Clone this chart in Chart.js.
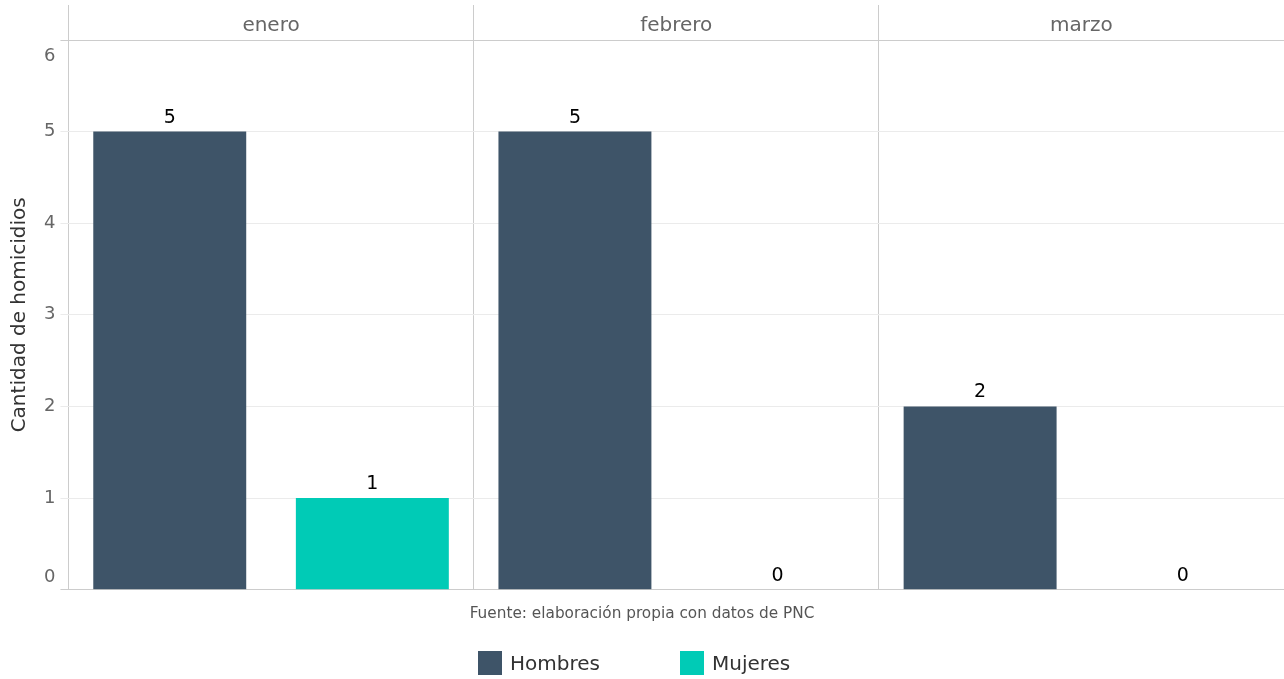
<!DOCTYPE html>
<html lang="es">
<head>
<meta charset="utf-8">
<title>Homicidios por mes</title>
<script src="https://cdn.jsdelivr.net/npm/chart.js@4/dist/chart.umd.min.js"></script>
<style>
    html, body { margin: 0; padding: 0; background: #ffffff; }
    #wrap { position: relative; width: 1284px; height: 679px; }
    #legend {
        position: absolute; left: 478px; top: 651px;
        display: flex; gap: 80px;
        font-family: "DejaVu Sans", sans-serif; font-size: 20px; color: #333333;
    }
    .legend-item { display: flex; align-items: center; gap: 8px; line-height: 24px; }
    .legend-box { width: 24px; height: 24px; display: inline-block; }
</style>
</head>
<body>
<div id="wrap">
    <canvas id="homicidiosChart"></canvas>
    <div id="legend"></div>
</div>
<script>
// --- Data ---
const months = ['enero', 'febrero', 'marzo'];
const hombres = [5, 5, 2];
const mujeres = [1, 0, 0];
const seriesNames = ['Hombres', 'Mujeres'];
const seriesColors = ['#3e5468', '#00cbb6'];
const yMin = 0;
const yMax = 6;
const yTitle = 'Cantidad de homicidios';
const sourceNote = 'Fuente: elaboración propia con datos de PNC';

const FONT = '"DejaVu Sans", sans-serif';

// strip labels (facet headers) drawn above each month column
const stripLabels = {
    id: 'stripLabels',
    afterDraw(chart) {
        const x = chart.scales.x;
        const { ctx } = chart;
        ctx.save();
        ctx.font = '20px ' + FONT;
        ctx.fillStyle = '#666666';
        ctx.textAlign = 'center';
        ctx.textBaseline = 'middle';
        months.forEach((m, i) => {
            ctx.fillText(m, x.getPixelForValue(i), chart.chartArea.top - 14);
        });
        ctx.restore();
    }
};

// first and last y labels sit inside the panel
const edgeTicks = {
    id: 'edgeTicks',
    afterDraw(chart) {
        const y = chart.scales.y;
        const { ctx } = chart;
        ctx.save();
        ctx.font = '18px ' + FONT;
        ctx.fillStyle = '#666666';
        ctx.textAlign = 'right';
        ctx.textBaseline = 'middle';
        const labelX = y.right - 8 - 5;
        ctx.fillText(String(yMin), labelX, y.getPixelForValue(yMin) - 12);
        ctx.fillText(String(yMax), labelX, y.getPixelForValue(yMax) + 16);
        ctx.restore();
    }
};

// value labels on top of the bars
const valueLabels = {
    id: 'valueLabels',
    afterDatasetsDraw(chart) {
        const { ctx } = chart;
        ctx.save();
        ctx.font = '19px ' + FONT;
        ctx.fillStyle = '#000000';
        ctx.textAlign = 'center';
        ctx.textBaseline = 'alphabetic';
        chart.data.datasets.forEach((ds, di) => {
            chart.getDatasetMeta(di).data.forEach((bar, i) => {
                ctx.fillText(String(ds.data[i]), bar.x, bar.y - 9);
            });
        });
        ctx.restore();
    }
};

const ctx = document.getElementById('homicidiosChart').getContext('2d');
new Chart(ctx, {
    type: 'bar',
    data: {
        labels: months,
        datasets: [
            { label: seriesNames[0], data: hombres, backgroundColor: seriesColors[0] },
            { label: seriesNames[1], data: mujeres, backgroundColor: seriesColors[1] }
        ]
    },
    options: {
        responsive: true,
        maintainAspectRatio: false,
        animation: false,
        layout: { padding: { top: 5, left: 0, right: 0, bottom: 56 } },
        datasets: { bar: { categoryPercentage: 1, barPercentage: 0.755 } },
        scales: {
            x: {
                position: 'top',
                grid: { offset: true, color: '#cccccc', tickLength: 35, drawTicks: true },
                border: { display: true, color: '#cccccc' },
                ticks: { display: false }
            },
            y: {
                min: yMin,
                max: yMax,
                grid: {
                    tickLength: 8,
                    color: c => (c.tick.value === yMin || c.tick.value === yMax) ? '#cccccc' : '#ebebeb'
                },
                border: { display: false },
                ticks: {
                    stepSize: 1,
                    padding: 5,
                    color: '#666666',
                    font: { family: FONT, size: 18 },
                    callback: v => (v === yMin || v === yMax) ? '' : v
                },
                title: {
                    display: true,
                    text: yTitle,
                    color: '#333333',
                    font: { family: FONT, size: 20 },
                    padding: { top: 8, bottom: 7 }
                }
            }
        },
        plugins: {
            legend: { display: false },
            tooltip: { enabled: false },
            subtitle: {
                display: true,
                position: 'bottom',
                text: sourceNote,
                color: '#555555',
                font: { family: FONT, size: 15.3, weight: 'normal' },
                padding: { top: 15, bottom: 0 }
            }
        }
    },
    plugins: [stripLabels, edgeTicks, valueLabels]
});

// --- Legend ---
const legendEl = document.getElementById('legend');
legendEl.innerHTML = seriesNames.map((name, i) => `
    <span class="legend-item">
        <span class="legend-box" style="background-color: ${seriesColors[i]};"></span>
        <span>${name}</span>
    </span>`).join('');
</script>
</body>
</html>
